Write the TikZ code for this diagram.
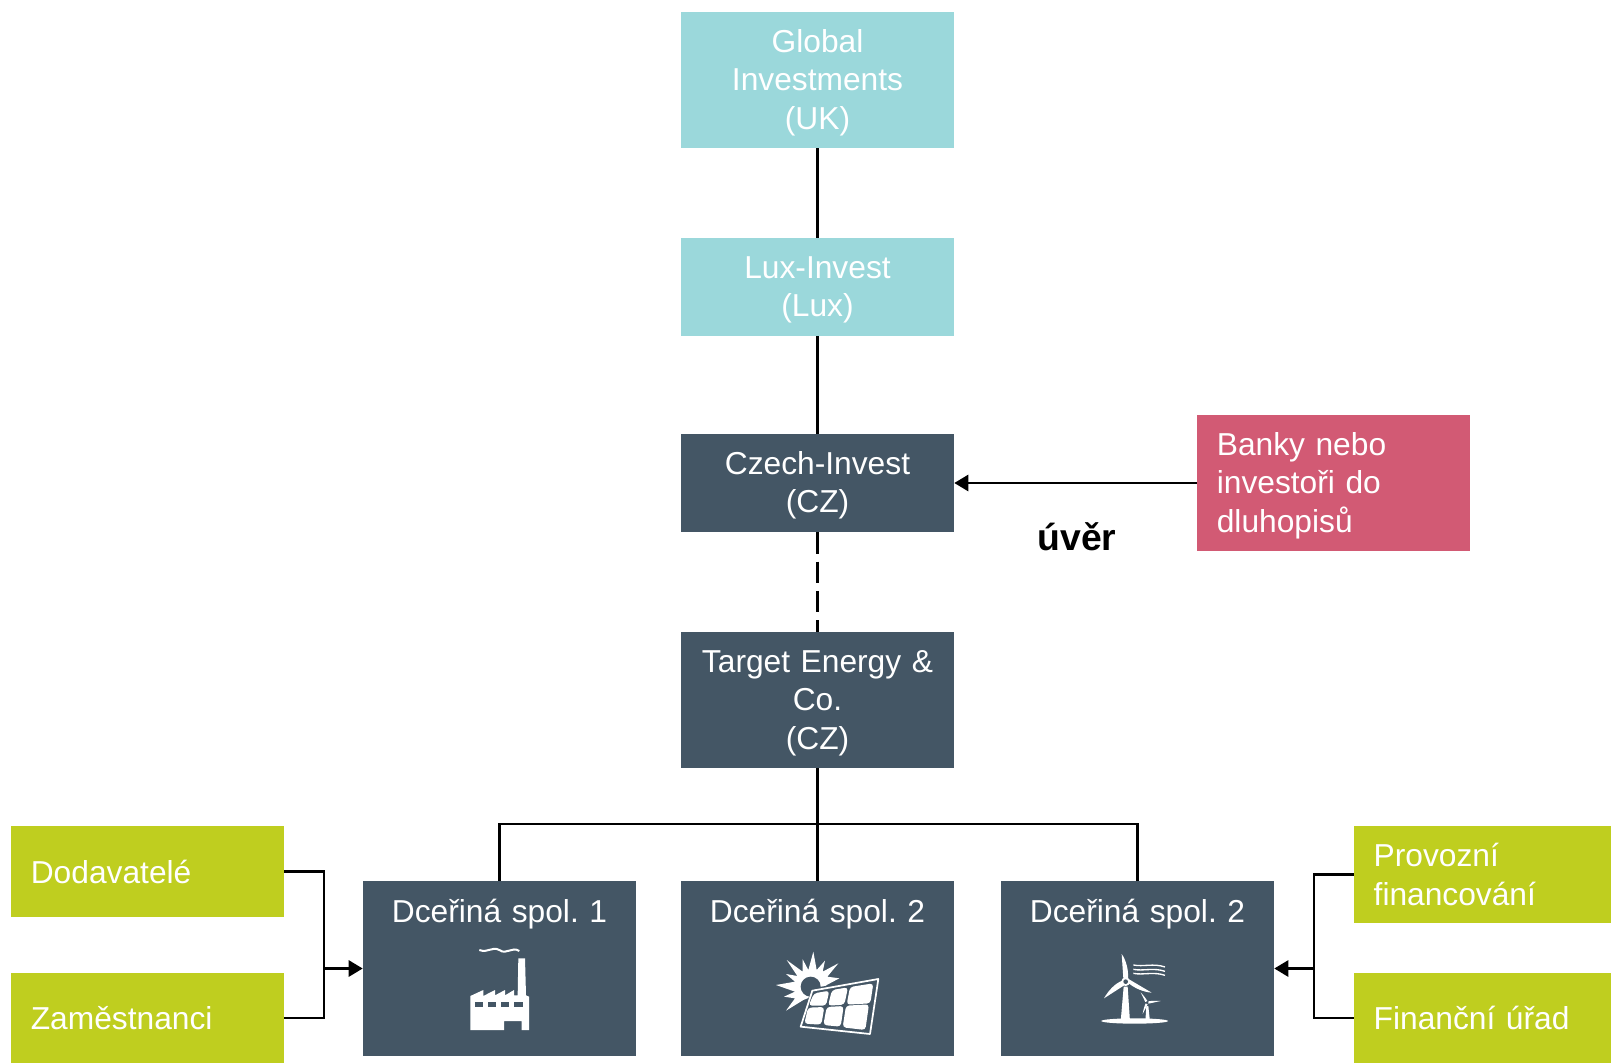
\documentclass[tikz,border=0pt]{standalone}
\usepackage{fontspec}
\setmainfont{Liberation Sans}
\usetikzlibrary{arrows.meta}
\definecolor{teal1}{HTML}{9BD8DB}
\definecolor{dark1}{HTML}{445665}
\definecolor{red1}{HTML}{D25A74}
\definecolor{green1}{HTML}{BFCE1F}
\tikzset{
	box/.style={inner sep=0pt, minimum width=204.75pt, align=center, text width=204.75pt, text=white, font=\frenchspacing\fontsize{23.8}{28.9}\selectfont},
	leftbox/.style={box, align=left, text width=175pt, inner xsep=14.75pt, minimum width=0pt},
	lowered/.style={execute at begin node={\rule{0pt}{21pt}}},
	line/.style={black, line width=2pt},
	arr/.style={line, -{Triangle[length=10.5pt,width=12pt]}},
}
\begin{document}
\begin{tikzpicture}[x=0.75pt,y=-0.75pt]
			\useasboundingbox (0,0) rectangle (1611,1063);
			\node [box, lowered, fill=teal1, minimum height=102pt] (global) at (817.5,80) {Global\\Investments\\(UK)};
			\node [box, lowered, fill=teal1, minimum height=73.5pt] (lux) at (817.5,287) {Lux-Invest\\(Lux)};
			\node [box, lowered, fill=dark1, minimum height=73.5pt] (czech) at (817.5,483) {Czech-Invest\\(CZ)};
			\node [box, lowered, fill=dark1, minimum height=102pt] (target) at (817.5,700) {Target Energy \&\\Co.\\(CZ)};
			\node [leftbox, lowered, fill=red1, minimum height=102pt] (banky) at (1333.5,483) {Banky nebo\\investoři do\\dluhopisů};
			\node [leftbox, fill=green1, minimum height=68.25pt] (dod) at (147.5,871.5) {Dodavatelé};
			\node [leftbox, fill=green1, minimum height=67.5pt] (zam) at (147.5,1018) {Zaměstnanci};
			\node [leftbox, fill=green1, text width=163.25pt, minimum height=72.75pt] (prov) at (1482.5,874.5) {Provozní\\financování};
			\node [leftbox, fill=green1, text width=163.25pt, minimum height=67.5pt] (fin) at (1482.5,1018) {Finanční úřad};
			\node [box, fill=dark1, minimum height=131.25pt] (dcer1) at (499.5,968.5) {};
			\node [box, fill=dark1, minimum height=131.25pt] (dcer2) at (817.5,968.5) {};
			\node [box, fill=dark1, minimum height=131.25pt] (dcer3) at (1137.5,968.5) {};
			\node [box] (dcer1t) at (499.5,914.5) {Dceřiná spol. 1};
			\node [box] (dcer2t) at (817.5,914.5) {Dceřiná spol. 2};
			\node [box] (dcer3t) at (1137.5,914.5) {Dceřiná spol. 2};
			\node [font=\fontsize{28}{33}\selectfont\bfseries] (uver) at (1077,537) {úvěr};
			\coordinate (busl) at (499.5,824);
			\coordinate (busr) at (1137.5,824);
			\coordinate (joinl) at (324,968.5);
			\coordinate (joinr) at (1314,968.5);
			\draw [line] (global) -- (lux);
			\draw [line] (lux) -- (czech);
			\draw [line, dash pattern=on 16pt off 6pt] (czech) -- (target);
			\draw [line] (target) -- (dcer2);
			\draw [line] (dcer1) -- (busl) -- (busr) -- (dcer3);
			\draw [arr] (banky) -- (czech);
			\draw [line] (dod.east) -| (joinl) |- (zam.east);
			\draw [line] (prov.west) -| (joinr) |- (fin.west);
			\draw [arr] (joinl) -- (dcer1);
			\draw [arr] (joinr) -- (dcer3);
			\begin{scope}[shift={(350,870)},x=0.25pt,y=-0.25pt,white]
				\fill (361,480) -- (361,378) -- (400,360) -- (400,378) -- (435,360) -- (435,376) -- (465,360) -- (465,376) -- (492,360) -- (492,376) -- (503,376) -- (505,265) -- (525,265) -- (528,376) -- (537,380) -- (537,480) -- (515,480) -- (515,453) -- (462,453) -- (462,480) -- cycle;
				\foreach \x in {374,413,452,492}
					\fill [dark1] (\x,395) rectangle (\x+26,410);
				\draw [line width=1.5pt] (388,240) .. controls (415,250) and (425,228) .. (448,240) .. controls (470,256) and (485,228) .. (508,243);
			\end{scope}
			\begin{scope}[shift={(680,870)},x=0.25pt,y=-0.25pt,white]
				\fill (400,245) -- (410,300) -- (435,272) -- (428,305) -- (475,280) -- (442,320) -- (478,325) -- (440,345) -- (420,370) -- (370,390) -- (318,422) -- (345,385) -- (312,380) -- (345,365) -- (288,345) -- (345,335) -- (318,312) -- (352,318) -- (320,270) -- (368,305) -- (368,268) -- (385,300) -- cycle;
				\fill [dark1] (392,350) circle (30);
				\fill [dark1] (395,355) -- (600,320) -- (575,500) -- (355,475) -- cycle;
				\draw [line width=1.3pt, line join=round] (397,362) -- (595,327) -- (570,492) -- (362,470) -- cycle;
				\fill [rounded corners=2.5pt] (402,370) -- (448,362) -- (438,407) -- (386,407) -- cycle;
				\fill [rounded corners=2.5pt] (456,360) -- (504,352) -- (493,404) -- (444,407) -- cycle;
				\fill [rounded corners=2.5pt] (510,351) -- (580,340) -- (571,400) -- (500,404) -- cycle;
				\fill [rounded corners=2.5pt] (384,413) -- (433,411) -- (424,464) -- (373,461) -- cycle;
				\fill [rounded corners=2.5pt] (440,411) -- (491,408) -- (482,470) -- (430,465) -- cycle;
				\fill [rounded corners=2.5pt] (498,407) -- (567,403) -- (556,480) -- (488,472) -- cycle;
			\end{scope}
			\begin{scope}[shift={(1000,870)},x=0.25pt,y=-0.25pt,white]
				\fill (404,453) ellipse (100 and 8);
				\fill (362,455) -- (371,350) -- (383,350) -- (390,455) -- cycle;
				\fill (365,252) .. controls (378,270) and (386,300) .. (384,325) -- (370,325) -- cycle;
				\fill (312,385) .. controls (325,362) and (345,340) .. (367,332) -- (374,345) -- cycle;
				\fill (455,368) .. controls (430,366) and (405,355) .. (386,340) -- (382,325) -- cycle;
				\fill (377,335) circle (13);
				\fill [dark1] (377,335) circle (7);
				\fill (436,455) -- (439,408) -- (445,408) -- (450,455) -- cycle;
				\fill (422,367) .. controls (430,375) and (437,385) .. (442,393) -- (436,396) -- cycle;
				\fill (428,432) .. controls (430,420) and (433,408) .. (437,400) -- (443,403) -- cycle;
				\fill (482,393) .. controls (470,392) and (455,392) .. (445,394) -- (445,401) -- cycle;
				\foreach \y in {285,298,310}
					\draw [line width=1pt] (400,\y) .. controls (430,\y+6) and (460,\y-6) .. (495,\y+6);
			\end{scope}
		\end{tikzpicture}
\end{document}
